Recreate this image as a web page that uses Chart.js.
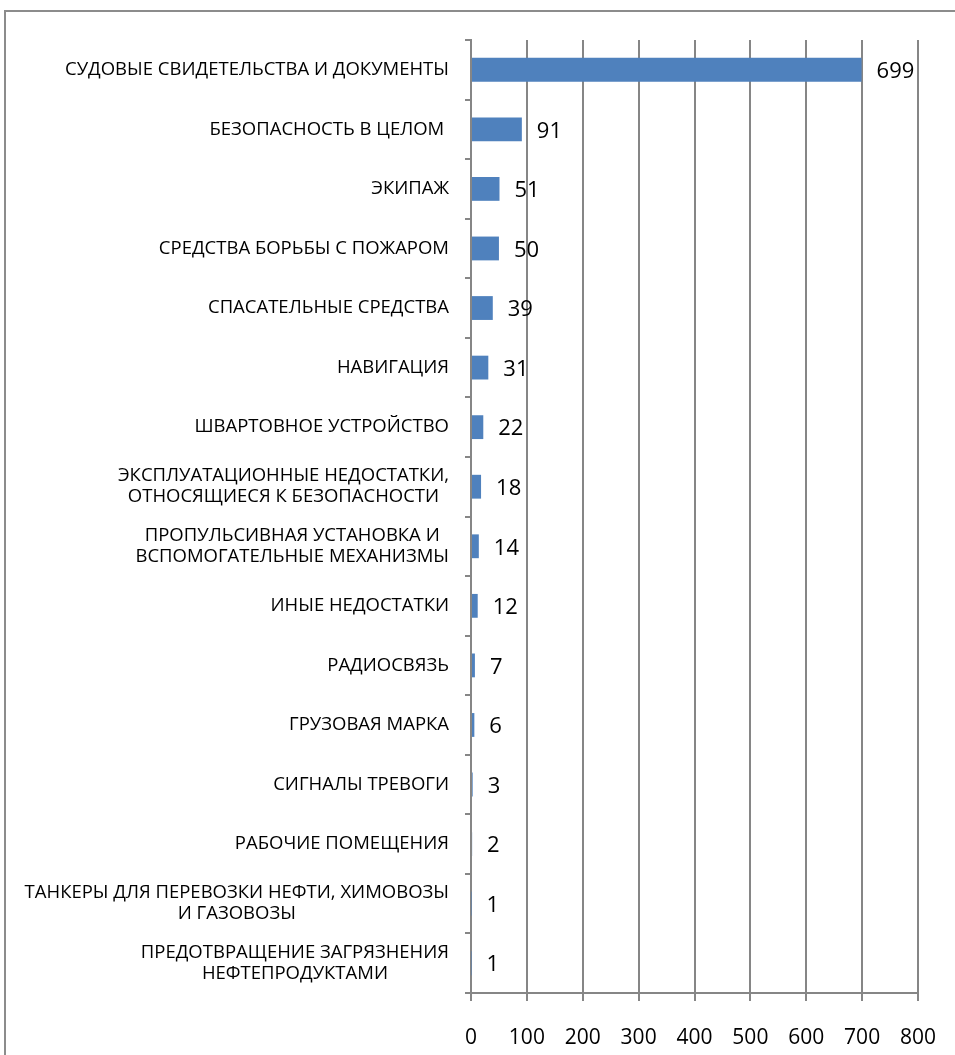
<!DOCTYPE html>
<html>
<head>
<meta charset="utf-8">
<script src="https://cdn.jsdelivr.net/npm/chart.js@4/dist/chart.umd.min.js"></script>
<style>
  html, body { margin: 0; padding: 0; background: #fff; overflow: hidden; }
  #wrap { position: relative; width: 955px; height: 1055px; }
  #frame { position: absolute; left: 4px; top: 10px; width: 1000px; height: 1100px; border: 2px solid #8c8c8c; box-sizing: border-box; }
  canvas { position: absolute; left: 0; top: 0; }
</style>
</head>
<body>
<div id="wrap">
  <div id="frame"></div>
  <canvas id="chart" width="955" height="1055"></canvas>
</div>
<script>
// categories, top to bottom
const categories = [
  ['СУДОВЫЕ СВИДЕТЕЛЬСТВА И ДОКУМЕНТЫ'],
  ['БЕЗОПАСНОСТЬ В ЦЕЛОМ '],
  ['ЭКИПАЖ'],
  ['СРЕДСТВА БОРЬБЫ С ПОЖАРОМ'],
  ['СПАСАТЕЛЬНЫЕ СРЕДСТВА'],
  ['НАВИГАЦИЯ'],
  ['ШВАРТОВНОЕ УСТРОЙСТВО'],
  ['ЭКСПЛУАТАЦИОННЫЕ НЕДОСТАТКИ,', 'ОТНОСЯЩИЕСЯ К БЕЗОПАСНОСТИ'],
  ['ПРОПУЛЬСИВНАЯ УСТАНОВКА И', 'ВСПОМОГАТЕЛЬНЫЕ МЕХАНИЗМЫ'],
  ['ИНЫЕ НЕДОСТАТКИ'],
  ['РАДИОСВЯЗЬ'],
  ['ГРУЗОВАЯ МАРКА'],
  ['СИГНАЛЫ ТРЕВОГИ'],
  ['РАБОЧИЕ ПОМЕЩЕНИЯ'],
  ['ТАНКЕРЫ ДЛЯ ПЕРЕВОЗКИ НЕФТИ, ХИМОВОЗЫ', 'И ГАЗОВОЗЫ'],
  ['ПРЕДОТВРАЩЕНИЕ ЗАГРЯЗНЕНИЯ', 'НЕФТЕПРОДУКТАМИ']
];
const values = [699, 91, 51, 50, 39, 31, 22, 18, 14, 12, 7, 6, 3, 2, 1, 1];
const xTicks = [0, 100, 200, 300, 400, 500, 600, 700, 800];

const FONT = "'Open Sans', 'Liberation Sans', sans-serif";
const gridColor = '#868686';

// category labels: lines centred on each other, block right-aligned to the axis
const catLabels = {
  id: 'catLabels',
  afterDraw(chart) {
    const ctx = chart.ctx;
    const y = chart.scales.y;
    const right = chart.chartArea.left - 22;
    ctx.save();
    ctx.font = '18.5px ' + FONT;
    ctx.fillStyle = '#000';
    ctx.textBaseline = 'middle';
    ctx.textAlign = 'center';
    categories.forEach((lines, i) => {
      const widest = Math.max(...lines.map(l => ctx.measureText(l).width));
      const cx = right - widest / 2;
      const cy = y.getPixelForValue(i);
      const lh = 21;
      lines.forEach((l, k) => {
        ctx.fillText(l, cx, cy + (k - (lines.length - 1) / 2) * lh);
      });
    });
    ctx.restore();
  }
};

// value labels right of each bar
const valueLabels = {
  id: 'valueLabels',
  afterDatasetsDraw(chart) {
    const ctx = chart.ctx;
    const meta = chart.getDatasetMeta(0);
    ctx.save();
    ctx.font = '22px ' + FONT;
    ctx.fillStyle = '#000';
    ctx.textBaseline = 'middle';
    ctx.textAlign = 'left';
    meta.data.forEach((bar, i) => {
      ctx.fillText(String(values[i]), bar.x + 15, bar.y + 2);
    });
    ctx.restore();
  }
};

new Chart(document.getElementById('chart'), {
  type: 'bar',
  data: {
    labels: categories.map(c => c.join(' ')),
    datasets: [{
      data: values,
      backgroundColor: '#4f81bd',
      borderWidth: 0,
      categoryPercentage: 0.4,
      barPercentage: 1
    }]
  },
  options: {
    indexAxis: 'y',
    responsive: false,
    animation: false,
    layout: { padding: { left: 0, top: 40, right: 37, bottom: 0 } },
    plugins: { legend: { display: false }, tooltip: { enabled: false } },
    scales: {
      x: {
        min: 0,
        max: 800,
        afterFit(scale) {
          scale.height = 62;
          scale.paddingLeft = 0;
          scale.paddingRight = 0;
        },
        afterBuildTicks(scale) { scale.ticks = xTicks.map(v => ({ value: v })); },
        grid: { color: gridColor, lineWidth: 2, tickLength: 8, drawTicks: true },
        border: { display: true, color: gridColor, width: 2 },
        ticks: { color: '#000', font: { family: FONT, size: 21 }, padding: 24, maxRotation: 0 }
      },
      y: {
        afterFit(scale) { scale.width = 471; },
        grid: { color: gridColor, lineWidth: 2, drawOnChartArea: false, tickLength: 6 },
        border: { display: true, color: gridColor, width: 2 },
        ticks: { display: false }
      }
    }
  },
  plugins: [catLabels, valueLabels]
});
</script>
</body>
</html>
